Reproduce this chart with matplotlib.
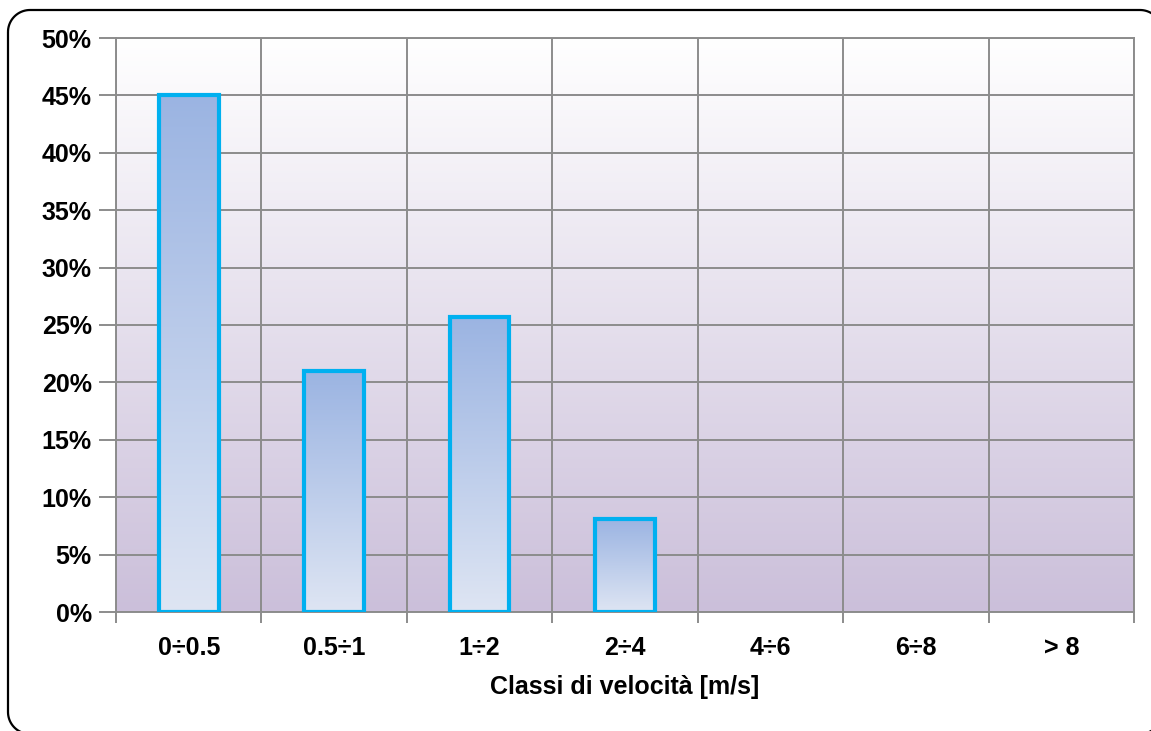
import matplotlib
matplotlib.use("Agg")
import matplotlib.pyplot as plt
import numpy as np
from matplotlib.path import Path
from matplotlib.patches import PathPatch
from matplotlib.colors import LinearSegmentedColormap
from matplotlib.ticker import FixedLocator, FuncFormatter

categories = ["0÷0.5", "0.5÷1", "1÷2", "2÷4", "4÷6", "6÷8", "> 8"]
values = [45.0, 21.0, 25.7, 8.1, 0.0, 0.0, 0.0]
yticks = [0, 5, 10, 15, 20, 25, 30, 35, 40, 45, 50]
xlabel = "Classi di velocità [m/s]"

plt.rcParams['font.family'] = ['Liberation Sans', 'DejaVu Sans']

W, H = 1151, 731
fig = plt.figure(figsize=(W / 100, H / 100), dpi=100)
fig.patch.set_facecolor('white')

# rounded outer border, built in pixel units (y from top) -> figure fraction
L, T, R, B, r = 8.0, 10.0, 1162.0, 734.0, 22.0


def arc(cx, cy, a0, a1):
    t = np.radians(np.linspace(a0, a1, 20))
    return np.column_stack([cx + r * np.cos(t), cy - r * np.sin(t)])


pts = np.vstack([
    arc(L + r, B - r, 180, 270)[::-1][::-1],  # bottom-left corner
])
pts = np.vstack([
    arc(L + r, T + r, 180, 90),    # top-left
    arc(R - r, T + r, 90, 0),      # top-right
    arc(R - r, B - r, 0, -90),     # bottom-right
    arc(L + r, B - r, -90, -180),  # bottom-left
])
pts = np.vstack([pts, pts[:1]])
fpts = np.column_stack([pts[:, 0] / W, 1 - pts[:, 1] / H])
border = PathPatch(Path(fpts), transform=fig.transFigure, facecolor='none',
                   edgecolor='black', linewidth=1.6, zorder=0)
fig.patches.append(border)

ax = fig.add_axes([116 / W, 1 - 612 / H, (1134 - 116) / W, (612 - 38) / H])
n = len(categories)

# background gradient
bg_cmap = LinearSegmentedColormap.from_list('bg', ['#CBBFDA', '#FFFFFF'])
grad = np.linspace(0, 1, 256).reshape(-1, 1)
ax.imshow(grad, cmap=bg_cmap, aspect='auto', origin='lower',
          extent=(-0.5, n - 0.5, 0, 50), zorder=0)

# grid
for yv in yticks:
    ax.axhline(yv, color='#8C8C8C', lw=1.4, zorder=1)
for xv in np.arange(-0.5, n, 1.0):
    ax.axvline(xv, color='#8C8C8C', lw=1.4, zorder=1)

# bars with gradient
bar_cmap = LinearSegmentedColormap.from_list('bar', ['#DEE5F3', '#9BB4E2'])
width = 0.41
bars = ax.bar(range(n), values, width=width, facecolor='none',
              edgecolor='#00B0F0', linewidth=3.0, zorder=3)
for b, v in zip(bars, values):
    if v <= 0:
        b.set_visible(False)
        continue
    x0 = b.get_x()
    im = ax.imshow(grad, cmap=bar_cmap, aspect='auto', origin='lower',
                   extent=(x0, x0 + width, 0, v), zorder=2)
    im.set_clip_path(b)

ax.set_xlim(-0.5, n - 0.5)
ax.set_ylim(0, 50)

for s in ax.spines.values():
    s.set_color('#8C8C8C')
    s.set_linewidth(1.4)

ax.set_yticks(yticks)
ax.yaxis.set_major_formatter(FuncFormatter(lambda v, p: f"{int(v)}%"))
ax.tick_params(axis='y', direction='out', length=12, width=1.4,
               color='#8C8C8C', labelsize=18, pad=5.5)
for lab in ax.get_yticklabels():
    lab.set_fontweight('bold')

ax.set_xticks(range(n))
ax.set_xticklabels(categories, fontsize=18, fontweight='bold')
ax.tick_params(axis='x', which='major', length=0, pad=17)
ax.xaxis.set_minor_locator(FixedLocator(np.arange(-0.5, n, 1.0)))
ax.tick_params(axis='x', which='minor', direction='out', length=8,
               width=1.4, color='#8C8C8C')
ax.set_xlabel(xlabel, fontsize=18, fontweight='bold', labelpad=11)

fig.savefig('out.png', dpi=100)
